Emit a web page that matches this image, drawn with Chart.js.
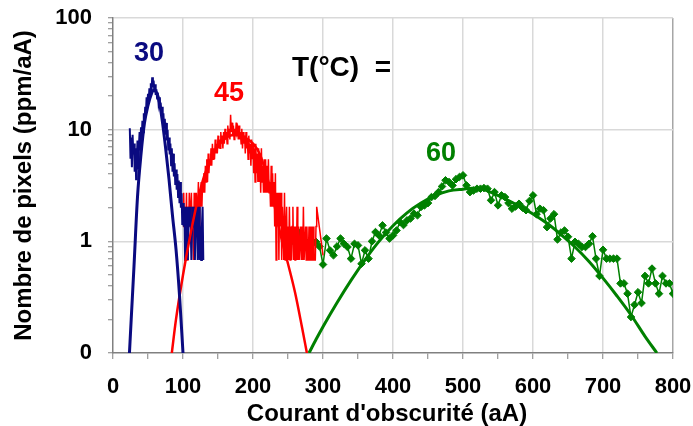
<!DOCTYPE html>
<html>
<head>
<meta charset="utf-8">
<script src="https://cdn.jsdelivr.net/npm/chart.js@4.4.1/dist/chart.umd.min.js"></script>
<style>
html,body{margin:0;padding:0;background:#fff;}
#wrap{width:693px;height:426px;}
</style>
</head>
<body>
<div id="wrap"><canvas id="c" width="693" height="426"></canvas></div>
<script>
// ---- data ----
const xTicks = [0,50,100,150,200,250,300,350,400,450,500,550,600,650,700,750,800];
const yTicks = [0.1,0.2,0.3,0.4,0.5,0.6,0.7,0.8,0.9,1,2,3,4,5,6,7,8,9,10,20,30,40,50,60,70,80,90,100];

// 30 °C raw data, one value per aA starting at 24 aA
const blueStart = 24;
const blueData = [
  10.3, 5.5, 8.5, 4.6, 9.0, 6.0, 7.5, 4.2, 6.8, 3.6,
  5.5, 8.0, 4.5, 7.0, 9.5, 6.5, 10.5, 8.0, 12.0, 9.5,
  14.0, 11.5, 16.0, 13.5, 19.5, 16.0, 21.0, 18.0, 23.5, 20.0,
  26.0, 22.0, 29.5, 24.0, 27.5, 22.5, 25.5, 20.5, 23.0, 19.0,
  21.5, 17.5, 19.5, 15.5, 17.5, 13.5, 16.0, 12.0, 14.0, 10.5,
  12.5, 9.0, 11.5, 8.0, 10.0, 6.5, 8.5, 6.0, 7.5, 4.8,
  6.8, 4.2, 6.1, 3.8, 5.0, 3.2, 4.4, 2.9, 4.0, 2.5,
  3.5, 2.2, 3.4, 2.0, 2.7, 1.4, 2.2, 1.36, 2.04, 0.68,
  1.36, 2.04, 1.36, 0.68, 2.04, 1.36, 2.04, 1.36, 0.68, 1.36,
  2.04, 1.36, 2.04, 0.68, 1.36, 1.36, 2.04, 0.68, 1.36, 2.04,
  0.68, 1.36, 0.68, 1.36, 2.04, 0.68
];

// 45 °C raw data, one value per aA starting at 100 aA (null = no sample)
const redStart = 100;
const redData = [
  1.36, 2.72, 1.36, 2.04, 1.36, 2.72, 0.68, 2.04, 1.36, 2.72,
  1.36, 2.04, 2.72, 1.36, 2.04, 0.68, 2.72, 1.36, 2.04, 2.72,
  1.36, 2.04, 3.4, 1.36, 2.72, 2.04, 3.4, 2.04, 3.4, 2.72,
  4.08, 2.72, 4.76, 3.4, 5.44, 3.4, 6.12, 4.08, 5.44, 4.76,
  6.8, 4.76, 7.48, 5.44, 6.8, 5.44, 8.16, 6.12, 7.48, 6.12,
  8.84, 6.8, 8.16, 6.8, 9.52, 7.48, 8.84, 6.8, 9.52, 7.48,
  10.2, 8.16, 9.52, 7.48, 10.88, 8.84, 10.2, 8.16, 13.6, 9.52,
  11.56, 8.84, 10.88, 8.16, 10.2, 8.84, 11.56, 9.52, 10.2, 8.16,
  10.88, 8.16, 9.52, 7.48, 10.2, 6.8, 9.52, 7.48, 8.84, 6.12,
  9.52, 6.8, 8.16, 5.44, 8.84, 6.12, 7.48, 4.76, 8.16, 5.44,
  7.48, 4.08, 6.8, 3.4, 7.48, 4.08, 6.12, 3.4, 6.8, 3.4,
  6.12, 2.72, 6.8, 3.4, 4.76, 2.72, 5.44, 2.72, 5.44, 2.72,
  4.76, 2.72, 5.44, 2.72, 3.4, 2.04, 4.76, 2.04, 4.08, 2.04,
  3.4, 1.36, 4.08, 0.68, 2.72, 1.36, 2.72, 0.68, 2.72, 1.36,
  2.72, 0.68, 2.04, 1.36, 0.68, 2.72, 0.68, 1.36, 2.04, 0.68,
  1.36, 0.68, 2.04, 0.68, 1.36, 0.68, 1.36, 2.04, 0.68, 1.36,
  0.68, 1.36, 0.68, 2.04, 0.68, 1.36, 0.68, 0.68, 1.36, 0.68,
  1.36, 0.68, 2.04, 0.68, 0.68, 1.36, 0.68, 1.36, 0.68, 0.68,
  1.36, 0.68, 0.68, 1.36, 0.68, 0.68, 1.36, 0.68, 0.68, 0.68,
  1.36, 2.04, null, null, null, null, null, null, null, null,
  0.75
];

// 60 °C raw data, one value every 5 aA starting at 250 aA
const greenStart = 250;
const greenStep = 5;
const greenData = [
  0.99, 1.0, 1.15, 1.21, 1.1, 1.0, 0.92, 0.95, 0.99, 0.9, 0.62,
  1.06, 0.83, 0.75, 0.9, 1.06, 0.95, 0.89, 0.7, 0.95, 0.92,
  0.63, 0.83, 0.7, 1.0, 1.21, 1.13, 1.39, 1.2, 1.06, 1.13,
  1.25, 1.49, 1.4, 1.54, 1.6, 1.77, 1.71, 2.03, 2.1, 2.2,
  2.49, 2.55, 2.76, 3.1, 3.52, 3.4, 3.17, 3.6, 3.77, 3.9,
  3.17, 2.76, 2.85, 2.96, 2.96, 3.0, 2.96, 2.33, 2.76, 2.1,
  2.58, 2.49, 2.2, 1.96, 2.05, 2.17, 2.0, 1.9, 2.3, 2.58,
  1.75, 1.96, 1.9, 1.34, 1.6, 1.75, 1.04, 1.2, 1.25, 1.1,
  0.7, 0.99, 0.95, 0.89, 0.89, 0.95, 1.11, 0.7, 0.49, 0.84,
  0.7, 0.7, 0.7, 0.7, 0.42, 0.42, 0.34, 0.21, 0.27, 0.35,
  0.28, 0.49, 0.42, 0.57, 0.42, 0.34, 0.49, 0.42, 0.42, 0.34
];

// fitted curves
const blueFitX = [23.5, 26, 30, 35, 40, 45, 50, 55, 58, 62, 66, 70, 75, 80, 85, 90, 95, 100];
const blueFitY = [0.1, 0.2, 0.6, 2.5, 6, 11.5, 16.5, 21, 22.5, 21.5, 18, 12.5, 7, 3.6, 1.7, 0.85, 0.33, 0.1];
const redFitX = [84, 90, 100, 110, 120, 130, 140, 150, 160, 170, 180, 190, 200, 210, 220, 230, 240, 250, 260, 270, 277];
const redFitY = [0.1, 0.2, 0.5, 1.1, 2.2, 3.8, 5.5, 7.2, 8.3, 8.9, 8.9, 8.4, 7.5, 6.0, 3.8, 2.2, 1.1, 0.63, 0.35, 0.17, 0.1];
const greenFitX = [280, 290, 300, 320, 340, 360, 380, 400, 420, 440, 460, 480, 500, 520, 540, 560, 580, 600, 620, 640, 660, 680, 700, 720, 740, 760, 777];
const greenFitY = [0.1, 0.132, 0.172, 0.282, 0.447, 0.684, 1.0, 1.38, 1.8, 2.2, 2.57, 2.83, 2.93, 3.0, 2.75, 2.4, 2.07, 1.76, 1.45, 1.15, 0.89, 0.66, 0.468, 0.324, 0.219, 0.141, 0.1];

const seriesLabels = ['30', '45', '60'];
const headerText = 'T(°C)  =';

// ---- build ----
const FONT = "'Liberation Sans', Arial, sans-serif";
const NAVY = '#0a0a80', RED = '#ff0000', GREEN = '#008000';
const toPts = (start, step, arr) => arr.map((v, i) => ({x: start + i * step, y: v}));
const zipPts = (xs, ys) => xs.map((x, i) => ({x: x, y: ys[i]}));

const labelsPlugin = {
  id: 'labels',
  afterDatasetsDraw(chart) {
    const {ctx, scales: {x, y}} = chart;
    ctx.save();
    ctx.font = 'bold 27px ' + FONT;
    ctx.textBaseline = 'middle';
    ctx.textAlign = 'center';
    const items = [
      [seriesLabels[0], 51.4, 48, NAVY],
      [seriesLabels[1], 165.7, 21, RED],
      [seriesLabels[2], 468.6, 6.1, GREEN]
    ];
    items.forEach(([t, xv, yv, c]) => {
      ctx.fillStyle = c;
      ctx.fillText(t, x.getPixelForValue(xv), y.getPixelForValue(yv));
    });
    ctx.font = 'bold 28px ' + FONT;
    ctx.textAlign = 'left';
    ctx.fillStyle = '#000';
    ctx.fillText(headerText, x.getPixelForValue(255.7), y.getPixelForValue(35.4));
    ctx.restore();
  }
};

const isDecade = v => Math.abs(Math.log10(v) - Math.round(Math.log10(v))) < 1e-9;

new Chart(document.getElementById('c'), {
  type: 'line',
  data: {
    datasets: [
      {data: zipPts(blueFitX, blueFitY), borderColor: NAVY, borderWidth: 3, pointRadius: 0, cubicInterpolationMode: 'monotone', order: 0},
      {data: zipPts(redFitX, redFitY), borderColor: RED, borderWidth: 2.5, pointRadius: 0, cubicInterpolationMode: 'monotone', order: 1},
      {data: zipPts(greenFitX, greenFitY), borderColor: GREEN, borderWidth: 3, pointRadius: 0, cubicInterpolationMode: 'monotone', order: 2},
      {data: toPts(blueStart, 1, blueData), borderColor: NAVY, borderWidth: 2, pointRadius: 0, tension: 0, order: 3},
      {data: toPts(redStart, 1, redData), borderColor: RED, borderWidth: 1.5, pointRadius: 0, tension: 0, spanGaps: true, order: 4},
      {data: toPts(greenStart, greenStep, greenData), borderColor: GREEN, borderWidth: 1.5, tension: 0,
       pointStyle: 'rectRot', pointRadius: 3.8, pointBackgroundColor: GREEN, pointBorderColor: GREEN, pointBorderWidth: 1, order: 5}
    ]
  },
  options: {
    responsive: false,
    animation: false,
    layout: {padding: {top: 18, right: 20, left: 0, bottom: 0}},
    plugins: {legend: {display: false}, tooltip: {enabled: false}},
    scales: {
      x: {
        type: 'linear', min: 0, max: 800,
        afterBuildTicks: s => { s.ticks = xTicks.map(v => ({value: v})); },
        afterFit: s => { s.height = 73; s.paddingLeft = 0; s.paddingRight = 0; },
        grid: {
          color: c => (c.tick && c.tick.value % 100 === 0 && c.tick.value > 0) ? (c.tick.value === 800 ? '#a6a6a6' : '#d9d9d9') : 'rgba(0,0,0,0)',
          lineWidth: 1.5, tickColor: '#808080', tickWidth: 1, tickLength: 6, drawTicks: true
        },
        border: {display: true, color: '#808080', width: 1.5},
        ticks: {
          autoSkip: false, maxRotation: 0, padding: 15,
          color: '#000', font: {family: FONT, size: 22, weight: 'bold'},
          callback: v => (v % 100 === 0 ? String(v) : '')
        },
        title: {display: true, text: "Courant d'obscurité (aA)\u2002", color: '#000',
          font: {family: FONT, size: 24, weight: 'bold', lineHeight: 1}, padding: {top: 0, bottom: 0}}
      },
      y: {
        type: 'logarithmic', min: 0.1, max: 100,
        afterBuildTicks: s => { s.ticks = yTicks.map(v => ({value: v})); },
        afterFit: s => { s.width = 113; s.paddingTop = 0; s.paddingBottom = 0; },
        grid: {
          color: c => (c.tick && isDecade(c.tick.value) && c.tick.value > 0.1) ? '#d9d9d9' : 'rgba(0,0,0,0)',
          lineWidth: 1.5, tickColor: '#808080', tickWidth: 1, tickLength: 5, drawTicks: true
        },
        border: {display: true, color: '#808080', width: 1.5},
        ticks: {
          autoSkip: false, padding: 16,
          color: '#000', font: {family: FONT, size: 22, weight: 'bold'},
          callback: v => (isDecade(v) ? (v < 1 ? '0' : String(Math.round(v))) : '')
        },
        title: {display: true, text: 'Nombre de pixels (ppm/aA)', color: '#000',
          font: {family: FONT, size: 24, weight: 'bold', lineHeight: 1}, padding: {top: 12, bottom: 0}}
      }
    }
  },
  plugins: [labelsPlugin]
});
</script>
</body>
</html>
